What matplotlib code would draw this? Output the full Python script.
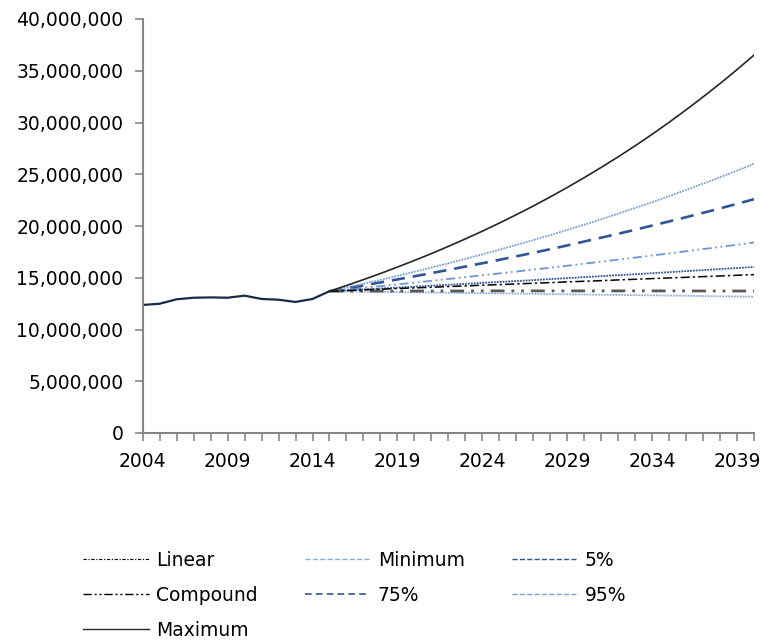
import matplotlib
matplotlib.use("Agg")
import matplotlib.pyplot as plt
from matplotlib.ticker import FuncFormatter, MultipleLocator, FixedLocator
from matplotlib.lines import Line2D

plt.rcParams['font.family'] = ['DejaVu Sans']

# ---- data (millions) ----
hist_years = list(range(2004, 2016))
history = [12.37, 12.49, 12.92, 13.07, 13.10, 13.07, 13.27, 12.95, 12.88, 12.66, 12.95, 13.70]

proj_years = list(range(2015, 2041))
linear = [13.70, 13.76, 13.83, 13.89, 13.96, 14.02, 14.08, 14.15, 14.21, 14.28, 14.34, 14.40, 14.47,
          14.53, 14.60, 14.66, 14.72, 14.79, 14.85, 14.92, 14.98, 15.04, 15.11, 15.17, 15.24, 15.30]
compound = [13.70, 13.70, 13.71, 13.71, 13.71, 13.72, 13.72, 13.72, 13.72, 13.73, 13.73, 13.73, 13.73,
            13.73, 13.73, 13.73, 13.73, 13.73, 13.73, 13.73, 13.73, 13.73, 13.72, 13.72, 13.72, 13.72]
minimum = [13.70, 13.68, 13.66, 13.64, 13.62, 13.59, 13.57, 13.55, 13.53, 13.51, 13.49, 13.47, 13.45,
           13.42, 13.40, 13.38, 13.36, 13.34, 13.32, 13.30, 13.28, 13.26, 13.23, 13.21, 13.19, 13.17]
p05 = [13.70, 13.79, 13.87, 13.96, 14.05, 14.14, 14.23, 14.32, 14.41, 14.50, 14.59, 14.68, 14.77,
       14.87, 14.96, 15.06, 15.15, 15.25, 15.34, 15.44, 15.54, 15.64, 15.74, 15.84, 15.94, 16.04]
p50 = [13.70, 13.86, 14.03, 14.19, 14.36, 14.53, 14.70, 14.88, 15.06, 15.24, 15.42, 15.60, 15.79,
       15.97, 16.16, 16.36, 16.55, 16.75, 16.95, 17.15, 17.35, 17.56, 17.77, 17.98, 18.19, 18.41]
p75 = [13.70, 13.98, 14.26, 14.55, 14.84, 15.14, 15.45, 15.76, 16.08, 16.40, 16.73, 17.07, 17.41,
       17.76, 18.12, 18.50, 18.87, 19.25, 19.64, 20.04, 20.44, 20.85, 21.27, 21.70, 22.14, 22.59]
p95 = [13.70, 14.06, 14.42, 14.80, 15.18, 15.58, 15.98, 16.40, 16.82, 17.26, 17.71, 18.17, 18.64,
       19.12, 19.62, 20.13, 20.65, 21.19, 21.74, 22.30, 22.88, 23.48, 24.09, 24.71, 25.35, 26.01]
maximum = [13.70, 14.25, 14.82, 15.41, 16.03, 16.67, 17.33, 18.03, 18.75, 19.50, 20.28, 21.09, 21.93,
           22.81, 23.72, 24.67, 25.66, 26.68, 27.75, 28.86, 30.02, 31.22, 32.47, 33.76, 35.11, 36.51]

x_tick_labels = [2004, 2009, 2014, 2019, 2024, 2029, 2034, 2039]

M = 1e6

fig = plt.figure(figsize=(7.74, 6.40), dpi=100)
ax = fig.add_axes([142.7 / 774, 1 - 433 / 640, (754 - 142.7) / 774, (433 - 19) / 640])

def sc(v):
    return [x * M for x in v]

light = '#8FAADC'
mid = '#6F95D0'
dark = '#2F5597'

series = [
    (minimum, dict(color=light, lw=1.3, ls=(0, (1, 0.6))), 'Minimum'),
    (p05, dict(color=dark, lw=1.3, ls=(0, (1, 0.6))), '5%'),
    (p50, dict(color=mid, lw=1.3, ls=(0, (5, 2, 1, 2, 1, 2))), None),
    (p75, dict(color=dark, lw=1.9, ls=(0, (5, 3))), '75%'),
    (p95, dict(color='#7A9FD6', lw=1.3, ls=(0, (1, 0.6))), '95%'),
    (compound, dict(color='#595959', lw=2.0, ls=(0, (5, 2.5, 1, 2.5, 1, 2.5))), 'Compound'),
    (linear, dict(color='#000000', lw=1.1, ls=(0, (6, 2, 1.5, 2))), 'Linear'),
    (maximum, dict(color='#262626', lw=1.2, ls='-'), 'Maximum'),
]
handles = {}
for vals, st, lab in series:
    ln, = ax.plot(proj_years, sc(vals), **st)
    if lab:
        handles[lab] = ln

ax.plot(hist_years, sc(history), color='#1B2A47', lw=1.6, solid_capstyle='round')

ax.set_xlim(2004, 2040)
ax.set_ylim(0, 40 * M)
ax.yaxis.set_major_locator(MultipleLocator(5 * M))
ax.yaxis.set_major_formatter(FuncFormatter(lambda v, p: f"{int(round(v)):,}"))
ax.xaxis.set_major_locator(FixedLocator(x_tick_labels))
ax.xaxis.set_minor_locator(MultipleLocator(1))

for s in ['top', 'right']:
    ax.spines[s].set_visible(False)
for s in ['left', 'bottom']:
    ax.spines[s].set_color('#868686')
    ax.spines[s].set_linewidth(1.5)
ax.tick_params(axis='both', which='both', color='#868686', width=1.2, length=6,
               labelsize=13.5, labelcolor='#000000', direction='out')
ax.tick_params(axis='x', which='both', pad=8)
ax.tick_params(axis='y', pad=8)

# legend handles (thin, as in the reference legend)
def lh(lab):
    ln = handles[lab]
    return Line2D([], [], color=ln.get_color(), lw=1.0, ls=ln.get_linestyle())

order = ['Linear', 'Compound', 'Maximum', 'Minimum', '75%', '5%', '95%']
leg_h = [lh(o) for o in order]
leg_h[order.index('Compound')] = Line2D([], [], color='#000000', lw=1.0, ls=(0, (6, 2, 1.5, 2, 1.5, 2)))
leg_h[order.index('Linear')] = Line2D([], [], color='#000000', lw=0.8, ls=(0, (3, 1.5, 1, 1.5)))
leg_h[order.index('Maximum')] = Line2D([], [], color='#262626', lw=1.0)
leg_h[order.index('75%')] = Line2D([], [], color=dark, lw=1.2, ls=(0, (4, 2.5)))
fig.legend(leg_h, order, ncol=3, loc='upper left', bbox_to_anchor=(83 / 774, 1 - 551 / 640),
           frameon=False, fontsize=13.5, handlelength=3.5, handletextpad=0.4,
           columnspacing=2.5, labelspacing=0.85, borderpad=0, borderaxespad=0)

fig.savefig('out.png', dpi=100)
